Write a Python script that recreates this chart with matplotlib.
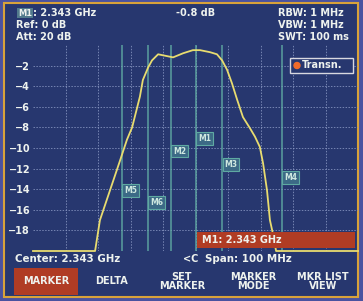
import matplotlib
matplotlib.use("Agg")
import matplotlib.pyplot as plt
from matplotlib.patches import Rectangle, Circle

# ---- data ----
freq_mhz = [-50, -30.9, -29.4, -26.3, -23.2, -21.1, -19.5, -17.1, -16.2, -14.6, -13.4,
            -11.5, -10.0, -6.9, -3.8, -0.8, 1.4, 4.5, 6.6, 8.2, 9.7, 11.2, 12.8, 14.6,
            16.8, 18.3, 19.8, 20.8, 22.0, 22.9, 23.8, 24.8, 50]
level_db = [-20, -20, -17.0, -14.1, -11.2, -9.2, -8.0, -5.0, -3.4, -2.2, -1.5,
            -0.9, -1.0, -1.2, -0.8, -0.5, -0.5, -0.7, -0.9, -1.5, -2.4, -3.7, -5.3, -7.0,
            -8.1, -8.9, -9.9, -11.5, -14.1, -17.0, -18.3, -20, -20]
marker_names = ["M1", "M2", "M3", "M4", "M5", "M6"]
marker_freq = [0, -7.5, 8.2, 26.6, -22.6, -14.6]
marker_label_db = [-9.1, -10.3, -11.6, -12.9, -14.1, -15.3]
yticks = [-2, -4, -6, -8, -10, -12, -14, -16, -18]
softkeys = ["MARKER", "DELTA", "SET\nMARKER", "MARKER\nMODE", "MKR LIST\nVIEW"]

# ---- colors ----
BG = "#27376f"
OUT = "#4a52a0"
TXT = "#eef2ee"
TEAL = "#5fa9a2"
GRID = "#8a98c4"
YEL = "#e8dc70"
RED = "#b03c24"
ORANGE = "#d8a23a"

W, H = 363, 301
fig = plt.figure(figsize=(W / 100, H / 100), dpi=100, facecolor=OUT)

# background overlay in pixel coords
ov = fig.add_axes([0, 0, 1, 1])
ov.set_xlim(0, W)
ov.set_ylim(H, 0)
ov.axis("off")
ov.add_patch(Rectangle((4, 3), 354, 294, facecolor=BG, edgecolor=ORANGE, lw=1.5))

fs = 7
kw = dict(color=TXT, fontsize=fs, fontweight="bold", family="DejaVu Sans")
ov.text(18, 13, "M1", color=TXT, fontsize=6, fontweight="bold", va="center",
        bbox=dict(boxstyle="square,pad=0.1", fc="#6fa8a0", ec="none", alpha=0.6))
ov.text(33, 13, ": 2.343 GHz", va="center", **kw)
ov.text(196, 13, "-0.8 dB", va="center", ha="center", **kw)
ov.text(16, 25, "Ref: 0 dB", va="center", **kw)
ov.text(16, 37, "Att: 20 dB", va="center", **kw)
ov.text(278, 13, "RBW: 1 MHz", va="center", **kw)
ov.text(278, 25, "VBW: 1 MHz", va="center", **kw)
ov.text(278, 37, "SWT: 100 ms", va="center", **kw)

# plot area
L, R, T, B = 33, 358, 45, 251
ax = fig.add_axes([L / W, (H - B) / H, (R - L) / W, (B - T) / H])
ax.set_facecolor("none")
ax.set_xlim(-50, 50)
ax.set_ylim(-20, 0)
for s in ax.spines.values():
    s.set_visible(False)
ax.set_xticks(range(-40, 50, 10))
ax.set_yticks(yticks)
ax.grid(True, color=GRID, ls=(0, (1.5, 1.5)), lw=0.7, alpha=0.8)
ax.tick_params(length=0, labelbottom=False, labelleft=True, colors=TXT, labelsize=fs, pad=2)
for lab in ax.get_yticklabels():
    lab.set_fontweight("bold")
    lab.set_color(TXT)

for f in marker_freq:
    ax.axvline(f, color=TEAL, lw=1.2, alpha=0.85)
for name, f, lv in zip(marker_names, marker_freq, marker_label_db):
    ax.text(f + 0.7, lv, name, color="#cfe8e0", fontsize=5.5, fontweight="bold",
            va="center", ha="left",
            bbox=dict(boxstyle="square,pad=0.25", fc="#3c6a86", ec=TEAL, lw=0.8))

ax.plot(freq_mhz, level_db, color=YEL, lw=1.3, clip_on=False)

# top overlay
top = fig.add_axes([0, 0, 1, 1])
top.set_xlim(0, W)
top.set_ylim(H, 0)
top.axis("off")
top.patch.set_alpha(0)

# Transn. box
top.add_patch(Rectangle((290, 58), 63, 15, facecolor=BG, edgecolor="#d8d8e0", lw=1))
top.add_patch(Circle((297, 65.5), 3, color="#f06a2a"))
top.text(302, 65.5, "Transn.", va="center", **kw)

# marker readout bar
top.add_patch(Rectangle((197, 232), 158, 16, facecolor=RED, edgecolor="none"))
top.text(202, 240, "M1: 2.343 GHz", va="center", **kw)

# bottom info
top.text(15, 259, "Center: 2.343 GHz", va="center", color=TXT, fontsize=7.4, fontweight="bold")
top.text(183, 259, "<C", va="center", **kw)
top.text(205, 259, "Span: 100 MHz", va="center", color=TXT, fontsize=7.4, fontweight="bold")

# softkeys
top.add_patch(Rectangle((14, 268), 64, 27, facecolor=RED, edgecolor="none"))
key_x = [46, 112, 182, 253, 323]
for k, x in zip(softkeys, key_x):
    top.text(x, 281.5, k, ha="center", va="center", color=TXT, fontsize=7,
             fontweight="bold", linespacing=0.9)

fig.savefig("out.png", dpi=100, facecolor=OUT)
